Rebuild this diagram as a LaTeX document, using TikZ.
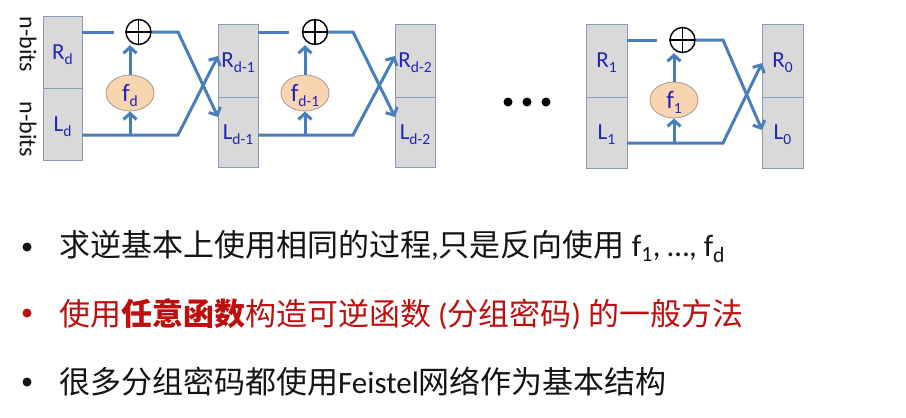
\documentclass[tikz,border=0pt]{standalone}
\usepackage{fontspec}
\setmainfont{Carlito}
\newfontfamily\cjk{Noto Sans CJK SC}
\usetikzlibrary{arrows.meta,shapes.geometric}
\definecolor{flowc}{RGB}{74,126,187}
\definecolor{boxf}{RGB}{217,217,217}
\definecolor{boxb}{RGB}{140,155,180}
\definecolor{lblc}{RGB}{35,35,180}
\definecolor{fcol}{RGB}{249,212,176}
\definecolor{fbor}{RGB}{170,150,140}
\definecolor{redc}{RGB}{190,15,15}
\definecolor{txtc}{RGB}{20,20,20}
\newcommand\lb[2]{#1\smash{\raisebox{-5pt}{\fontsize{15.5}{15.5}\selectfont #2}}}
\begin{document}
\begin{tikzpicture}[x=1pt,y=-1pt,
  half/.style={draw=boxb,fill=boxf,line width=0.9pt,minimum width=40pt,inner sep=0pt,outer sep=0pt,text=lblc,font=\fontsize{23}{23}\selectfont},
  fbox/.style={ellipse,draw=fbor,fill=fcol,line width=0.8pt,minimum width=48pt,minimum height=36pt,inner sep=0pt,text=lblc,font=\fontsize{25}{25}\selectfont},
  xor/.style={circle,draw=black,line width=1.4pt,minimum size=25pt,inner sep=0pt},
  xorbar/.style={draw=black,line width=1.3pt},
  flow/.style={draw=flowc,line width=3pt},
  tip/.style={-{Straight Barb[length=6pt,width=13pt]}},
  nb/.style={rotate=-90,inner sep=0pt,text=txtc,font=\fontsize{24}{24}\selectfont},
  dotn/.style={circle,fill=black,minimum size=9pt,inner sep=0pt},
  bul/.style={circle,fill=#1,minimum size=9pt,inner sep=0pt},
  txt/.style={anchor=base west,inner sep=0pt,font=\fontsize{31}{31}\selectfont}
]
\useasboundingbox (0,0) rectangle (906,418);
\fill[white] (0,0) rectangle (906,418);

% boxes
\node[half,minimum height=72pt,minimum width=39pt] (R1) at (62.5,52) {\lb{R}{d}};
\node[half,minimum height=72pt,minimum width=39pt] (L1) at (62.5,124) {\lb{L}{d}};
\node[half,minimum height=73pt] (R2) at (238,60.5) {\lb{R}{d-1}};
\node[half,minimum height=70pt] (L2) at (238,132) {\lb{L}{d-1}};
\node[half,minimum height=73pt] (R3) at (415,60.5) {\lb{R}{d-2}};
\node[half,minimum height=70pt] (L3) at (415,132) {\lb{L}{d-2}};
\node[half,minimum height=73pt,minimum width=41pt] (R4) at (606.5,60.5) {\lb{R}{1}};
\node[half,minimum height=71pt,minimum width=41pt] (L4) at (606.5,132.5) {\lb{L}{1}};
\node[half,minimum height=73pt,minimum width=41pt] (R5) at (782.5,60.5) {\lb{R}{0}};
\node[half,minimum height=71pt,minimum width=41pt] (L5) at (782.5,132.5) {\lb{L}{0}};

% n-bits
\node[nb] (nb1) at (28,44.5) {n-bits};
\node[nb] (nb2) at (28,129.5) {n-bits};

% xor and f
\node[xor] (X1) at (138.5,32) {};
\node[xor] (X2) at (315,32) {};
\node[xor] (X3) at (682.5,40) {};
\foreach \x in {X1,X2,X3}{
  \draw[xorbar] (\x.north) -- (\x.south);
  \draw[xorbar] (\x.west) -- (\x.east);
}
\node[fbox] (F1) at (130,93) {\lb{f}{d}};
\node[fbox] (F2) at (305,93) {\lb{f}{d-1}};
\node[fbox] (F3) at (674,100) {\lb{f}{1}};

% bends
\coordinate (t1) at (178,32);
\coordinate (b1) at (178,135);
\coordinate (t2) at (353,32);
\coordinate (b2) at (353,135);
\coordinate (t3) at (723,40);
\coordinate (b3) at (723,143);

% stage 1
\draw[flow] (R1.east |- X1) -- ([xshift=-11pt]X1.west);
\draw[flow,tip] (X1.east) -- (t1) -- ([yshift=15pt]L2.west);
\draw[flow,tip] (L1.east |- b1) -- (b1) -- ([yshift=4.5pt]R2.west);
\draw[flow,tip] (F1.south |- b1) -- (F1.south);
\draw[flow,tip] (F1.north) -- (F1.north |- X1.south);

% stage 2
\draw[flow] (R2.east |- X2) -- ([xshift=-12.5pt]X2.west);
\draw[flow,tip] (X2.east) -- (t2) -- ([yshift=15pt]L3.west);
\draw[flow,tip] (L2.east |- b2) -- (b2) -- ([yshift=4.5pt]R3.west);
\draw[flow,tip] (F2.south |- b2) -- (F2.south);
\draw[flow,tip] (F2.north) -- (F2.north |- X2.south);

% stage 3
\draw[flow] (R4.east |- X3) -- ([xshift=-12pt]X3.west);
\draw[flow,tip] (X3.east) -- (t3) -- ([yshift=2.5pt]L5.west);
\draw[flow,tip] (L4.east |- b3) -- (b3) -- ([yshift=-2.5pt]R5.west);
\draw[flow,tip] (F3.south |- b3) -- (F3.south);
\draw[flow,tip] (F3.north) -- (F3.north |- X3.south);

% dots
\node[dotn] (d1) at (508,102) {};
\node[dotn] (d2) at (527,102) {};
\node[dotn] (d3) at (546,102) {};

% bullets
\node[bul=txtc] (B1) at (27,247) {};
\node[bul=redc] (B2) at (27,313) {};
\node[bul=txtc] (B3) at (27,382) {};

\node[txt,text=txtc] (T1) at (59,256) {{\cjk 求逆基本上使用相同的过程},{\cjk 只是反向使用} f\textsubscript{1}, …, f\textsubscript{d}};
\node[txt,text=redc] (T2) at (59,325) {{\cjk 使用}{\cjk\bfseries 任意函数}{\cjk 构造可逆函数} ({\cjk 分组密码}) {\cjk 的一般方法}};
\node[txt,text=txtc] (T3) at (59,393) {{\cjk 很多分组密码都使用}Feistel{\cjk 网络作为基本结构}};
\end{tikzpicture}
\end{document}
